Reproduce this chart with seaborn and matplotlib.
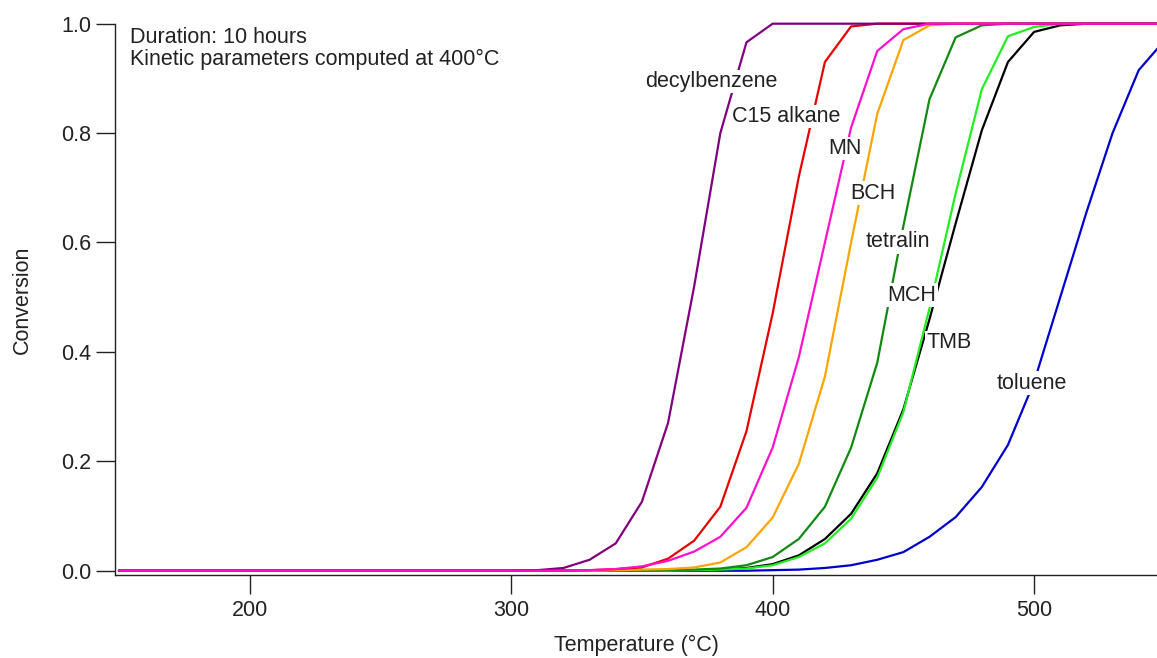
import numpy as np
import pandas as pd
import matplotlib
matplotlib.use("Agg")
import matplotlib.pyplot as plt
import seaborn as sns

temps = [150, 160, 170, 180, 190, 200, 210, 220, 230, 240,
         250, 260, 270, 280, 290, 300, 310, 320, 330, 340,
         350, 360, 370, 380, 390, 400, 410, 420, 430, 440,
         450, 460, 470, 480, 490, 500, 510, 520, 530, 540, 550]

toluene = [0, 0, 0, 0, 0, 0, 0, 0, 0, 0,
           0, 0, 0, 0, 0, 0, 0, 0, 0, 0,
           0, 0, 0, 0, 0, 0.001, 0.002, 0.005, 0.010, 0.020,
           0.034, 0.062, 0.098, 0.153, 0.230, 0.345, 0.500, 0.655, 0.800, 0.915, 0.970]
tmb = [0, 0, 0, 0, 0, 0, 0, 0, 0, 0,
       0, 0, 0, 0, 0, 0, 0, 0, 0, 0,
       0, 0, 0.001, 0.002, 0.005, 0.012, 0.028, 0.058, 0.104, 0.178,
       0.295, 0.460, 0.635, 0.805, 0.930, 0.985, 0.997, 1.0, 1.0, 1.0, 1.0]
mch = [0, 0, 0, 0, 0, 0, 0, 0, 0, 0,
       0, 0, 0, 0, 0, 0, 0, 0, 0, 0,
       0, 0, 0.001, 0.002, 0.004, 0.010, 0.025, 0.050, 0.095, 0.170,
       0.290, 0.480, 0.690, 0.880, 0.977, 0.994, 1.0, 1.0, 1.0, 1.0, 1.0]
tetralin = [0, 0, 0, 0, 0, 0, 0, 0, 0, 0,
            0, 0, 0, 0, 0, 0, 0, 0, 0, 0,
            0, 0.001, 0.002, 0.004, 0.010, 0.025, 0.058, 0.117, 0.225, 0.380,
            0.630, 0.862, 0.975, 0.997, 1.0, 1.0, 1.0, 1.0, 1.0, 1.0, 1.0]
bch = [0, 0, 0, 0, 0, 0, 0, 0, 0, 0,
       0, 0, 0, 0, 0, 0, 0, 0, 0, 0.001,
       0.002, 0.003, 0.006, 0.015, 0.043, 0.097, 0.195, 0.355, 0.600, 0.835,
       0.970, 0.997, 1.0, 1.0, 1.0, 1.0, 1.0, 1.0, 1.0, 1.0, 1.0]
c15 = [0, 0, 0, 0, 0, 0, 0, 0, 0, 0,
       0, 0, 0, 0, 0, 0, 0, 0, 0.001, 0.003,
       0.006, 0.022, 0.055, 0.117, 0.255, 0.470, 0.720, 0.930, 0.995, 1.0,
       1.0, 1.0, 1.0, 1.0, 1.0, 1.0, 1.0, 1.0, 1.0, 1.0, 1.0]
decylbenzene = [0, 0, 0, 0, 0, 0, 0, 0, 0, 0,
                0, 0, 0, 0, 0, 0, 0.001, 0.005, 0.020, 0.050,
                0.126, 0.270, 0.520, 0.800, 0.966, 1.0, 1.0, 1.0, 1.0, 1.0,
                1.0, 1.0, 1.0, 1.0, 1.0, 1.0, 1.0, 1.0, 1.0, 1.0, 1.0]
mn = [0, 0, 0, 0, 0, 0, 0, 0, 0, 0,
      0, 0, 0, 0, 0, 0, 0, 0, 0.001, 0.003,
      0.008, 0.018, 0.035, 0.062, 0.115, 0.225, 0.390, 0.600, 0.810, 0.950,
      0.990, 1.0, 1.0, 1.0, 1.0, 1.0, 1.0, 1.0, 1.0, 1.0, 1.0]

series_names = ["toluene", "TMB", "MCH", "tetralin", "BCH", "C15 alkane", "decylbenzene", "MN"]
series_values = [toluene, tmb, mch, tetralin, bch, c15, decylbenzene, mn]
colors = ["#0000cc", "#000000", "#22ee22", "#128a12", "#ffa500", "#e80000", "#800080", "#ff10cc"]

label_pos = {
    "decylbenzene": (376.4, 0.894),
    "C15 alkane": (405.3, 0.830),
    "MN": (427.6, 0.772),
    "BCH": (438.3, 0.690),
    "tetralin": (447.8, 0.601),
    "MCH": (453.3, 0.504),
    "TMB": (467.6, 0.417),
    "toluene": (499.2, 0.343),
}

rows = []
for name, vals in zip(series_names, series_values):
    for t, v in zip(temps, vals):
        rows.append({"Temperature": t, "Conversion": v, "species": name})
df = pd.DataFrame(rows)

sns.set_style("ticks")
plt.rcParams['font.family'] = ['Liberation Sans', 'DejaVu Sans']

FS = 15.5
fig = plt.figure(figsize=(11.57, 6.58), dpi=100)
ax = fig.add_axes([0.0994, 0.126, 0.9006, 0.838])

sns.lineplot(data=df, x="Temperature", y="Conversion", hue="species",
             hue_order=series_names, palette=colors, linewidth=1.6,
             legend=False, ax=ax, estimator=None)

for name in series_names:
    x, y = label_pos[name]
    ax.text(x, y, name, fontsize=FS, color="#222222", ha="center", va="center",
            bbox=dict(facecolor="white", edgecolor="none", pad=1.0), zorder=5)

ax.text(0.0144, 0.994, "Duration: 10 hours\nKinetic parameters computed at 400°C",
        transform=ax.transAxes, fontsize=FS, va="top", ha="left", linespacing=1.07,
        color="#222222")

ax.set_xlim(148.5, 547)
ax.set_ylim(-0.008, 1.0)
ax.set_xticks([200, 300, 400, 500])
ax.set_yticks([0.0, 0.2, 0.4, 0.6, 0.8, 1.0])
ax.set_yticklabels(["0.0", "0.2", "0.4", "0.6", "0.8", "1.0"])
ax.tick_params(axis="both", labelsize=FS, width=1, color="#222222", direction="out",
               labelcolor="#222222")
ax.tick_params(axis="x", length=14, pad=4)
ax.tick_params(axis="y", length=14, pad=3)
ax.set_xlabel("Temperature (°C)", fontsize=FS, labelpad=10, color="#222222")
ax.set_ylabel("Conversion", fontsize=FS, labelpad=20, color="#222222")
for side in ["top", "right"]:
    ax.spines[side].set_visible(False)
for side in ["left", "bottom"]:
    ax.spines[side].set_color("#222222")
    ax.spines[side].set_linewidth(1.0)
for line in ax.get_lines():
    line.set_clip_on(False)

fig.savefig("out.png", dpi=100)
